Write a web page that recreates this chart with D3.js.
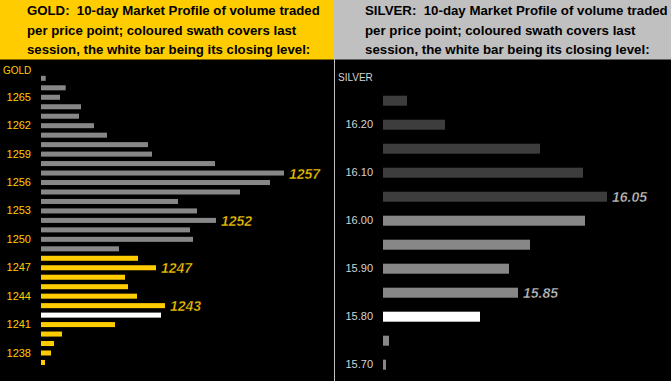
<!DOCTYPE html>
<html>
<head>
<meta charset="utf-8">
<script src="https://cdnjs.cloudflare.com/ajax/libs/d3/7.8.5/d3.min.js"></script>
<style>
  html, body { margin: 0; padding: 0; background: #000; }
  svg { display: block; font-family: Arial, "Liberation Sans", sans-serif; }
  .hdr { white-space: pre; }
</style>
</head>
<body>
<svg id="chart" width="671" height="381"></svg>
<script>
// ---------- DATA ----------
const goldPrices = [1267, 1266, 1265, 1264, 1263, 1262, 1261, 1260, 1259, 1258, 1257, 1256, 1255, 1254, 1253, 1252,
                    1251, 1250, 1249, 1248, 1247, 1246, 1245, 1244, 1243, 1242, 1241, 1240, 1239, 1238, 1237];
const goldVolumes = [4.7, 24.7, 19, 40, 38, 53, 66, 107, 111, 174, 243, 229, 199, 137, 156, 175,
                     149, 152, 78, 97, 115, 84, 87, 96, 124, 120, 74, 21, 13, 10, 4];
const goldSession = [1248, 1247, 1246, 1245, 1244, 1243, 1242, 1241, 1240, 1239, 1238, 1237];
const goldClose = 1242;
const goldTicks = [1265, 1262, 1259, 1256, 1253, 1250, 1247, 1244, 1241, 1238];
const goldLabels = [1257, 1252, 1247, 1243];
const goldTitle = ["GOLD:  10-day Market Profile of volume traded",
                   "per price point; coloured swath covers last",
                   "session, the white bar being its closing level:"];

const silverPrices = ["16.25", "16.20", "16.15", "16.10", "16.05", "16.00", "15.95", "15.90", "15.85", "15.80", "15.75", "15.70"];
const silverVolumes = [24, 62, 157, 200, 224, 202, 147, 126, 135, 97, 6, 3];
const silverSession = ["16.00", "15.95", "15.90", "15.85", "15.80", "15.75", "15.70"];
const silverClose = "15.80";
const silverTicks = ["16.20", "16.10", "16.00", "15.90", "15.80", "15.70"];
const silverLabels = ["16.05", "15.85"];
const silverTitle = ["SILVER:  10-day Market Profile of volume traded",
                     "per price point; coloured swath covers last",
                     "session, the white bar being its closing level:"];

// ---------- DRAW ----------
const svg = d3.select("#chart");
svg.append("rect").attr("width", 671).attr("height", 381).attr("fill", "#000");

function panel(opt) {
  const g = svg.append("g");
  // header
  g.append("rect").attr("x", opt.hx).attr("y", 0).attr("width", opt.hw).attr("height", 59.5)
    .attr("fill", opt.headerFill);
  const lines = opt.title.map((t, i) =>
    g.append("text").attr("class", "hdr").attr("x", opt.tx).attr("y", 15 + i * 19.6)
      .attr("font-size", 13).attr("font-weight", "bold").attr("fill", "#000").text(t));
  // fit first line to the measured width of the reference
  const w = lines[0].node().getComputedTextLength();
  if (w > 0) {
    const fs = 13 * opt.titleWidth / w;
    lines.forEach(l => l.attr("font-size", fs));
  }
  // name
  g.append("text").attr("x", opt.nameX).attr("y", opt.nameY).attr("font-size", 10)
    .attr("fill", opt.tickColor).text(opt.name);

  const y = d3.scaleBand().domain(opt.prices).range(opt.yRange)
    .paddingInner(opt.padIn).paddingOuter(opt.padIn / 2);
  const x = d3.scaleLinear().domain([0, 250]).range([opt.x0, opt.x0 + 250]);

  const data = opt.prices.map((p, i) => ({ p, v: opt.volumes[i] }));
  g.selectAll("rect.bar").data(data).join("rect").attr("class", "bar")
    .attr("x", x(0)).attr("y", d => y(d.p))
    .attr("width", d => x(d.v) - x(0)).attr("height", y.bandwidth())
    .attr("fill", d => d.p === opt.close ? "#ffffff" : (opt.session.includes(d.p) ? opt.sessionFill : opt.baseFill));

  const axis = d3.axisLeft(y).tickValues(opt.ticks).tickSize(0).tickPadding(10)
    .tickFormat(d => String(d));
  const ag = g.append("g").attr("transform", `translate(${opt.x0},0)`).call(axis);
  ag.select(".domain").remove();
  ag.selectAll("text").attr("font-size", 11).attr("fill", opt.tickColor)
    .attr("font-family", "Arial, 'Liberation Sans', sans-serif");

  g.selectAll("text.vlab").data(data.filter(d => opt.labels.includes(d.p))).join("text")
    .attr("class", "vlab")
    .attr("x", d => x(d.v) + 5).attr("y", d => y(d.p) + y.bandwidth() / 2 + 5.5)
    .attr("font-size", opt.labSize).attr("font-weight", "bold").attr("font-style", "italic")
    .attr("fill", opt.labelColor).attr("stroke", "#000").attr("stroke-width", 0.4)
    .text(d => String(d.p));
}

panel({
  hx: 0, hw: 334, headerFill: "#ffcc00", tx: 27, title: goldTitle, titleWidth: 293,
  name: "GOLD", nameX: 3, nameY: 74, tickColor: "#ffcc00",
  prices: goldPrices, volumes: goldVolumes, session: goldSession, close: goldClose,
  ticks: goldTicks, labels: goldLabels,
  yRange: [73.6, 367.2], padIn: 0.47, x0: 41,
  baseFill: "#878787", sessionFill: "#ffcc00", labelColor: "#ffcc00", labSize: 14
});

panel({
  hx: 334, hw: 337, headerFill: "#c0c0c0", tx: 365, title: silverTitle, titleWidth: 303,
  name: "SILVER", nameX: 338, nameY: 81, tickColor: "#d4d4d4",
  prices: silverPrices, volumes: silverVolumes, session: silverSession, close: silverClose,
  ticks: silverTicks, labels: silverLabels,
  yRange: [88.7, 376.7], padIn: 0.583, x0: 383,
  baseFill: "#3d3d3d", sessionFill: "#878787", labelColor: "#c8c8c8", labSize: 14
});

// divider
svg.append("line").attr("x1", 334.5).attr("x2", 334.5).attr("y1", 0).attr("y2", 381)
  .attr("stroke", "#c0c0c0").attr("stroke-width", 1);
</script>
</body>
</html>
